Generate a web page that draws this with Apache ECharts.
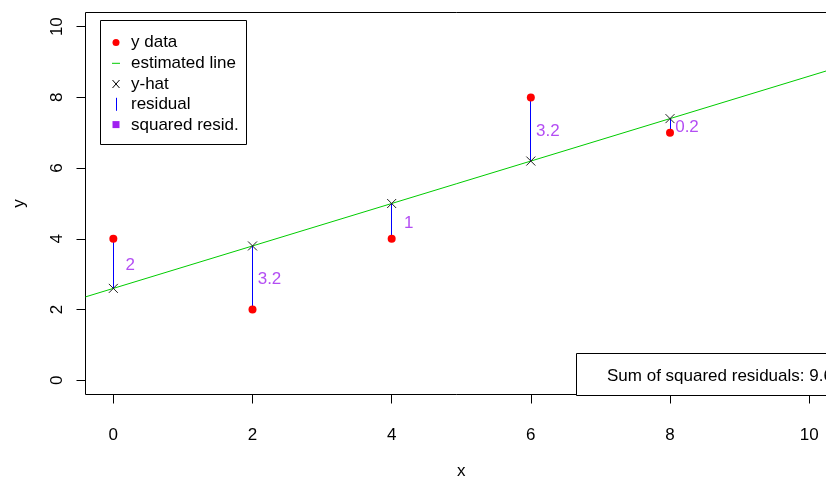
<!DOCTYPE html>
<html><head><meta charset="utf-8">
<script src="https://cdn.jsdelivr.net/npm/echarts@6/dist/echarts.min.js"></script>
<style>html,body{margin:0;padding:0;background:#fff}#c{width:826px;height:479px}</style>
</head><body><div id="c"></div>
<script>
const xValues = [0, 2, 4, 6, 8];
const yData = [4, 2, 4, 8, 7];
const yHat = [2.6, 3.8, 5.0, 6.2, 7.4];
const sqResidLabels = ['2', '3.2', '1', '3.2', '0.2'];
const lineX = [-0.4, 10.4];
const lineY = [2.36, 8.84];
const xTicks = [0, 2, 4, 6, 8, 10];
const yTicks = [0, 2, 4, 6, 8, 10];
const legendItems = ['y data', 'estimated line', 'y-hat', 'residual', 'squared resid.'];
const sumText = 'Sum of squared residuals: 9.6';

const FONT = '"Liberation Sans", Arial, sans-serif';
const FS = 17;
const PURPLE = '#a020f0';
const chart = echarts.init(document.getElementById('c'), null, {renderer: 'canvas'});

const legendRowY = [42.5, 63.3, 84, 104.8, 125.6];
const legendGraphics = [
  {type: 'rect', shape: {x: 100.5, y: 20.5, width: 146, height: 124}, style: {fill: '#fff', stroke: '#000', lineWidth: 1}, z: 100},
  {type: 'circle', shape: {cx: 116, cy: legendRowY[0], r: 3.5}, style: {fill: '#ff0000'}, z: 101},
  {type: 'line', shape: {x1: 112, y1: legendRowY[1], x2: 120, y2: legendRowY[1]}, style: {stroke: '#00cc00', lineWidth: 1}, z: 101},
  {type: 'line', shape: {x1: 112.5, y1: legendRowY[2] - 4, x2: 119.5, y2: legendRowY[2] + 4}, style: {stroke: '#000', lineWidth: 1}, z: 101},
  {type: 'line', shape: {x1: 119.5, y1: legendRowY[2] - 4, x2: 112.5, y2: legendRowY[2] + 4}, style: {stroke: '#000', lineWidth: 1}, z: 101},
  {type: 'line', shape: {x1: 116.5, y1: legendRowY[3] - 7, x2: 116.5, y2: legendRowY[3] + 6}, style: {stroke: '#0000ff', lineWidth: 1}, z: 101},
  {type: 'rect', shape: {x: 112.5, y: legendRowY[4] - 4.5, width: 7, height: 7}, style: {fill: PURPLE}, z: 101}
];
legendItems.forEach((t, i) => {
  legendGraphics.push({type: 'text', x: 131, y: legendRowY[i], style: {text: t, fill: '#000', font: FS + 'px ' + FONT, textVerticalAlign: 'middle', verticalAlign: 'middle'}, z: 101});
});
legendGraphics.push(
  {type: 'rect', shape: {x: 576.5, y: 353.5, width: 300, height: 42}, style: {fill: '#fff', stroke: '#000', lineWidth: 1}, z: 100},
  {type: 'text', x: 607, y: 376, style: {text: sumText, fill: '#000', font: FS + 'px ' + FONT, verticalAlign: 'middle', textVerticalAlign: 'middle'}, z: 101}
);

const option = {
  animation: false,
  backgroundColor: '#fff',
  textStyle: {fontFamily: FONT},
  grid: {left: 85.5, top: 12.5, width: 751.5, height: 382, show: true, borderColor: '#000', borderWidth: 1, backgroundColor: 'transparent', containLabel: false, outerBoundsMode: 'none'},
  xAxis: {
    type: 'value', min: -0.4, max: 10.4,
    name: 'x', nameLocation: 'middle', nameGap: 68,
    nameTextStyle: {fontSize: FS, color: '#000', fontFamily: FONT},
    axisLine: {show: false, onZero: false},
    splitLine: {show: false},
    axisTick: {show: true, customValues: xTicks, length: 9, lineStyle: {color: '#000'}},
    axisLabel: {customValues: xTicks, fontSize: FS, color: '#000', margin: 32, fontFamily: FONT}
  },
  yAxis: {
    type: 'value', min: -0.4, max: 10.4,
    name: 'y', nameLocation: 'middle', nameGap: 58, nameRotate: 90,
    nameTextStyle: {fontSize: FS, color: '#000', fontFamily: FONT},
    axisLine: {show: false, onZero: false},
    splitLine: {show: false},
    axisTick: {show: true, customValues: yTicks, length: 9, lineStyle: {color: '#000'}},
    axisLabel: {customValues: yTicks, fontSize: FS, color: '#000', margin: 20, rotate: 90, fontFamily: FONT}
  },
  series: [
    {
      name: 'estimated line', type: 'line', data: lineX.map((x, i) => [x, lineY[i]]),
      symbol: 'none', lineStyle: {color: '#00cc00', width: 1}, silent: true, z: 2
    },
    {
      name: 'residual', type: 'custom',
      data: xValues.map((x, i) => [x, yHat[i], yData[i]]),
      encode: {x: 0, y: [1, 2]},
      renderItem: function (params, api) {
        const p1 = api.coord([api.value(0), api.value(1)]);
        const p2 = api.coord([api.value(0), api.value(2)]);
        const px = Math.round(p1[0] - 0.5) + 0.5;
        return {type: 'line', shape: {x1: px, y1: p1[1], x2: px, y2: p2[1]}, style: {stroke: '#0000ff', lineWidth: 1}};
      },
      z: 3
    },
    {
      name: 'y data', type: 'scatter', data: xValues.map((x, i) => [x, yData[i]]),
      symbol: 'circle', symbolSize: 8, itemStyle: {color: '#ff0000', opacity: 1}, z: 4
    },
    {
      name: 'y-hat', type: 'scatter', data: xValues.map((x, i) => [x, yHat[i]]),
      symbol: 'path://M0,0L10,10M10,0L0,10', symbolSize: 9,
      itemStyle: {color: 'transparent', borderColor: '#222', borderWidth: 1, opacity: 1}, z: 5
    },
    {
      name: 'squared resid.', type: 'scatter',
      data: xValues.map((x, i) => ({value: [x, (yData[i] + yHat[i]) / 2], label: {formatter: sqResidLabels[i]}})),
      symbolSize: 1, itemStyle: {color: 'transparent'},
      label: {show: true, position: 'inside', offset: [17, 2], color: PURPLE, fontSize: FS, fontFamily: FONT},
      z: 6
    }
  ],
  graphic: legendGraphics
};
chart.setOption(option);
</script>
</body></html>
